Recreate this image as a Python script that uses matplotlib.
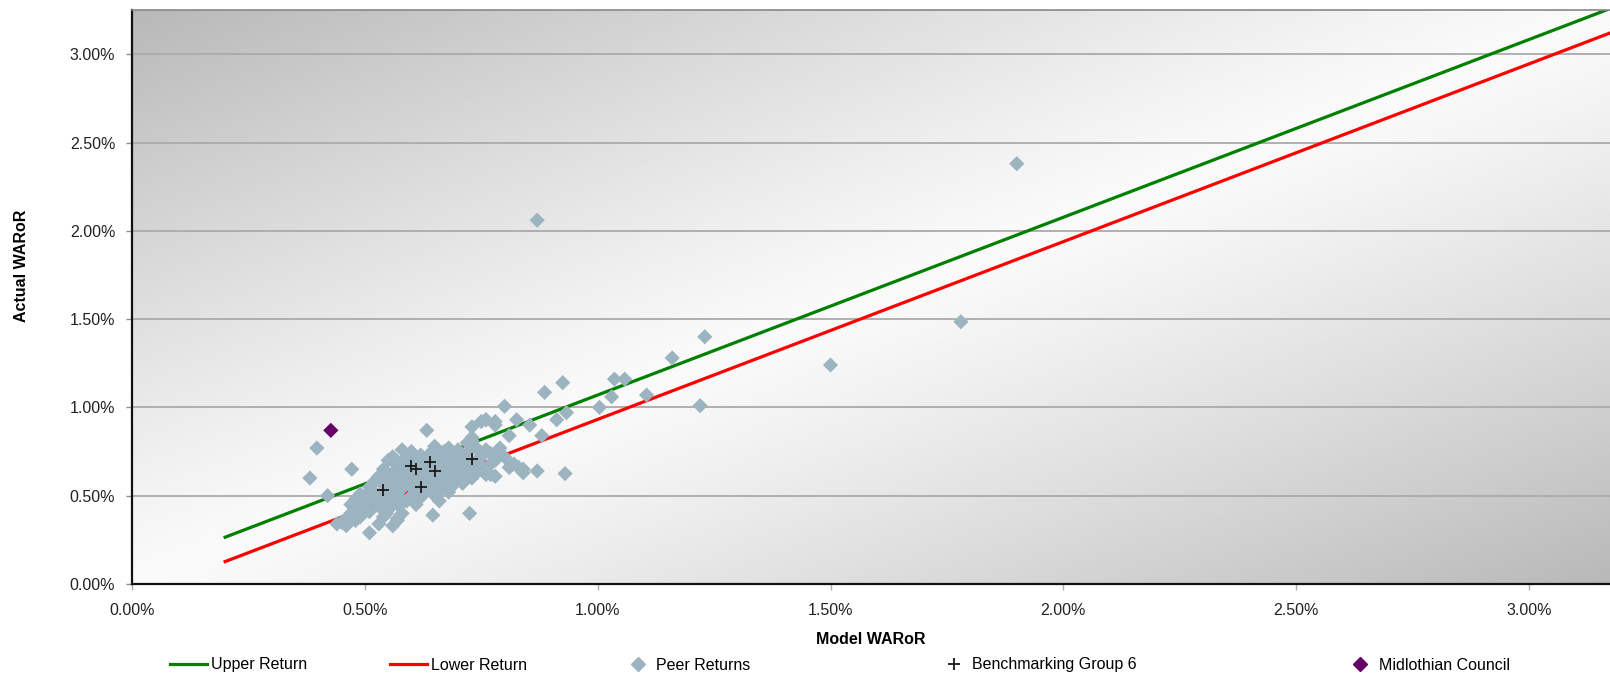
import numpy as np
import matplotlib
matplotlib.use("Agg")
import matplotlib.pyplot as plt
from matplotlib.lines import Line2D
from matplotlib.ticker import FuncFormatter

plt.rcParams['font.family'] = ['Liberation Sans', 'DejaVu Sans']

# 数据 (单位: %)
line_x = [0.2, 3.3]
upper_y = [0.265, 3.385]
lower_y = [0.127, 3.247]

peer_x = [0.87, 1.90, 1.78, 1.50, 1.23, 1.16, 1.22, 1.105, 1.058, 1.036, 1.03, 1.004,
          0.925, 0.933, 0.912, 0.886, 0.88, 0.87, 0.93, 0.80, 0.826, 0.76, 0.78, 0.854,
          0.73, 0.81, 0.79, 0.79, 0.73, 0.76, 0.815, 0.83, 0.84, 0.77, 0.633,
          0.382, 0.397, 0.42, 0.472, 0.725, 0.646, 0.547, 0.57, 0.453, 0.51,
          0.45, 0.46, 0.46, 0.47, 0.47, 0.48, 0.48, 0.49, 0.49, 0.49, 0.50, 0.50,
          0.51, 0.51, 0.52, 0.52, 0.52, 0.53, 0.53, 0.53, 0.54, 0.54, 0.54, 0.54,
          0.55, 0.55, 0.55, 0.55, 0.56, 0.56, 0.56, 0.56, 0.56, 0.57, 0.57, 0.57,
          0.57, 0.57, 0.58, 0.58, 0.58, 0.58, 0.58, 0.59, 0.59, 0.59, 0.59, 0.60,
          0.60, 0.60, 0.60, 0.60, 0.61, 0.61, 0.61, 0.61, 0.61, 0.62, 0.62, 0.62,
          0.62, 0.62, 0.63, 0.63, 0.63, 0.63, 0.64, 0.64, 0.64, 0.64, 0.65, 0.65,
          0.65, 0.65, 0.65, 0.66, 0.66, 0.66, 0.66, 0.67, 0.67, 0.67, 0.67, 0.68,
          0.68, 0.68, 0.68, 0.68, 0.69, 0.69, 0.69, 0.69, 0.70, 0.70, 0.70, 0.70,
          0.71, 0.71, 0.71, 0.72, 0.72, 0.72, 0.72, 0.73, 0.73, 0.73, 0.74, 0.74,
          0.74, 0.75, 0.75, 0.75, 0.76, 0.76, 0.77, 0.77, 0.78, 0.78, 0.78, 0.79,
          0.80, 0.81, 0.82, 0.83, 0.84, 0.44, 0.48, 0.50, 0.53, 0.58, 0.66]
peer_y = [2.06, 2.38, 1.485, 1.24, 1.40, 1.28, 1.01, 1.07, 1.16, 1.16, 1.06, 1.00,
          1.14, 0.97, 0.93, 1.085, 0.84, 0.64, 0.625, 1.006, 0.93, 0.93, 0.92, 0.90,
          0.89, 0.84, 0.77, 0.74, 0.81, 0.76, 0.675, 0.66, 0.63, 0.62, 0.87,
          0.60, 0.77, 0.50, 0.65, 0.40, 0.39, 0.40, 0.37, 0.35, 0.29,
          0.35, 0.33, 0.37, 0.40, 0.45, 0.42, 0.48, 0.38, 0.44, 0.51, 0.46, 0.50,
          0.41, 0.55, 0.47, 0.52, 0.58, 0.44, 0.50, 0.61, 0.38, 0.47, 0.56, 0.65,
          0.42, 0.52, 0.60, 0.70, 0.33, 0.48, 0.55, 0.63, 0.72, 0.36, 0.45, 0.51,
          0.58, 0.67, 0.40, 0.54, 0.61, 0.69, 0.76, 0.47, 0.57, 0.64, 0.72, 0.50,
          0.55, 0.60, 0.68, 0.75, 0.45, 0.53, 0.58, 0.63, 0.71, 0.49, 0.56, 0.61,
          0.66, 0.73, 0.52, 0.58, 0.64, 0.69, 0.55, 0.61, 0.67, 0.74, 0.50, 0.58,
          0.63, 0.70, 0.78, 0.53, 0.60, 0.65, 0.72, 0.56, 0.62, 0.68, 0.75, 0.52,
          0.59, 0.65, 0.71, 0.77, 0.56, 0.62, 0.68, 0.73, 0.60, 0.66, 0.71, 0.76,
          0.57, 0.64, 0.69, 0.62, 0.67, 0.74, 0.80, 0.60, 0.65, 0.83, 0.63, 0.70,
          0.77, 0.67, 0.72, 0.92, 0.62, 0.93, 0.68, 0.74, 0.61, 0.70, 0.90, 0.74,
          0.72, 0.66, 0.68, 0.66, 0.65, 0.34, 0.36, 0.41, 0.34, 0.46, 0.47]

bench_x = [0.54, 0.62, 0.60, 0.61, 0.64, 0.65, 0.73]
bench_y = [0.53, 0.55, 0.67, 0.65, 0.69, 0.64, 0.71]

council_x = [0.427]
council_y = [0.87]

W, H = 1610, 678
fig = plt.figure(figsize=(W / 100, H / 100), dpi=100)
ax = fig.add_axes([132 / W, (H - 584) / H, (W - 132) / W, (584 - 10) / H])

# 背景渐变: 对角线方向浅, 左上/右下角深
u, v = np.meshgrid(np.linspace(0, 1, 400), np.linspace(1, 0, 200))
d = np.abs(u - v)
grad = (250 - 66 * d ** 1.15) / 255
ax.imshow(grad, extent=[0, 1, 0, 1], transform=ax.transAxes, aspect='auto',
          cmap='gray', vmin=0, vmax=1, zorder=0, interpolation='bilinear')

ax.set_axisbelow(True)
ax.yaxis.grid(True, color='#aaaaaa', linewidth=1.3)
ax.xaxis.grid(False)

ax.plot(line_x, upper_y, color='#008000', linewidth=2.3, zorder=2, label='Upper Return')
ax.plot(line_x, lower_y, color='#ff0000', linewidth=2.3, zorder=2, label='Lower Return')
ax.scatter(peer_x, peer_y, marker='D', s=60, color='#9cb3c0', edgecolor='none', zorder=3,
           label='Peer Returns')
ax.scatter(bench_x, bench_y, marker='+', s=70, color='#1a1a1a', linewidth=1.3, zorder=4,
           label='Benchmarking Group 6')
ax.scatter(council_x, council_y, marker='D', s=60, color='#660066', edgecolor='none', zorder=5,
           label='Midlothian Council')

ax.set_xlim(0, 1478 / 465.67)
ax.set_ylim(0, 574 / 176.6)
ax.set_xticks(np.arange(0, 3.01, 0.5))
ax.set_yticks(np.arange(0, 3.01, 0.5))
pct = FuncFormatter(lambda val, pos: f"{val:.2f}%")
ax.xaxis.set_major_formatter(pct)
ax.yaxis.set_major_formatter(pct)
ax.tick_params(axis='both', labelsize=11.5, colors='#222222', length=4, width=1)
ax.tick_params(axis='y', pad=8, color='#909090')
ax.tick_params(axis='x', pad=10, color='#b0b0b0')

for s in ['left', 'bottom']:
    ax.spines[s].set_color('#111111')
    ax.spines[s].set_linewidth(1.6)
ax.spines['top'].set_color('#888888')
ax.spines['top'].set_linewidth(1.2)
ax.spines['right'].set_visible(False)

fig.text(871 / W, 1 - 640 / H, 'Model WARoR', ha='center', va='center',
         fontsize=11.5, fontweight='bold')
fig.text(21 / W, 1 - 266 / H, 'Actual WARoR', ha='center', va='center',
         rotation=90, fontsize=11.5, fontweight='bold')

# 图例
ly = 1 - 665 / H
handles = [
    (Line2D([], [], color='#008000', linewidth=2.3), 'Upper Return', 170, 2.3, 0.25),
    (Line2D([], [], color='#ff0000', linewidth=2.3), 'Lower Return', 390, 2.3, 0.25),
    (Line2D([], [], marker='D', linestyle='none', color='#9cb3c0', markersize=7), 'Peer Returns', 630, 1.0, 0.6),
    (Line2D([], [], marker='+', linestyle='none', color='#1a1a1a', markersize=8, markeredgewidth=1.3),
     'Benchmarking Group 6', 946, 1.0, 0.6),
    (Line2D([], [], marker='D', linestyle='none', color='#660066', markersize=7), 'Midlothian Council', 1352, 1.0, 0.7),
]
for h, lab, x0, hl, tp in handles:
    fig.legend([h], [lab], loc='center left', bbox_to_anchor=(x0 / W, ly), frameon=False,
               fontsize=11.5, handlelength=hl, handletextpad=tp, borderpad=0, borderaxespad=0)

fig.savefig('out.png', dpi=100)
